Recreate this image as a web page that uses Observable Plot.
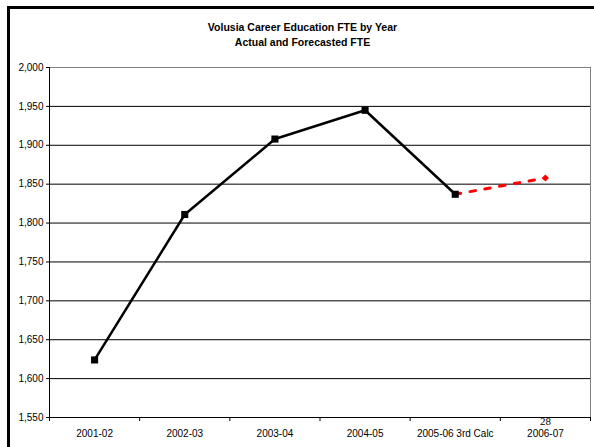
<!DOCTYPE html>
<html>
<head>
<meta charset="utf-8">
<script src="https://cdn.jsdelivr.net/npm/d3@7"></script>
<script src="https://cdn.jsdelivr.net/npm/@observablehq/plot@0.6"></script>
<style>
  html, body { margin: 0; padding: 0; background: #fff; }
  #wrap { position: relative; width: 594px; height: 447px; overflow: hidden; font-family: "Liberation Sans", Arial, sans-serif; }
  #frame { position: absolute; left: 7px; top: 6px; right: -10px; bottom: -10px; border-left: 3px solid #000; border-top: 3px solid #000; }
  #title { position: absolute; left: 0; top: 20px; width: 605px; text-align: center; font-weight: bold; font-size: 10.5px; line-height: 15px; color: #000; }
  #chart { position: absolute; left: 0; top: 0; }
</style>
</head>
<body>
<div id="wrap">
  <div id="chart"></div>
  <div id="frame"></div>
  <div id="title">Volusia Career Education FTE by Year<br>Actual and Forecasted FTE</div>
</div>
<script>
const categories = ["2001-02", "2002-03", "2003-04", "2004-05", "2005-06 3rd Calc", "2006-07"];
const actualYears = ["2001-02", "2002-03", "2003-04", "2004-05", "2005-06 3rd Calc"];
const actualFTE = [1624, 1811, 1908, 1945, 1837];
const forecastYears = ["2005-06 3rd Calc", "2006-07"];
const forecastFTE = [1837, 1858];
const yTicks = [1550, 1600, 1650, 1700, 1750, 1800, 1850, 1900, 1950, 2000];
const pageNumber = "28";

const actual = actualYears.map((c, i) => ({i: categories.indexOf(c), v: actualFTE[i]}));
const forecast = forecastYears.map((c, i) => ({i: categories.indexOf(c), v: forecastFTE[i]}));
const centers = categories.map((c, i) => i);
const bounds = d3.range(-0.5, categories.length, 1);

const font = "Liberation Sans, Arial, sans-serif";

const chart = Plot.plot({
  width: 594,
  height: 447,
  marginLeft: 49,
  marginRight: 4,
  marginTop: 67,
  marginBottom: 30,
  style: {fontFamily: font, fontSize: "10px", color: "#000", background: "transparent", overflow: "visible"},
  x: {type: "linear", domain: [-0.5, categories.length - 0.5]},
  y: {domain: [1550, 2000]},
  marks: [
    Plot.gridY(yTicks.filter(t => t > 1550 && t < 2000), {stroke: "#000", strokeOpacity: 1, strokeWidth: 1}),
    Plot.ruleY([2000], {stroke: "#808080", strokeWidth: 1}),
    Plot.ruleX([categories.length - 0.5], {stroke: "#808080", strokeWidth: 1}),
    Plot.ruleX([-0.5], {stroke: "#000", strokeWidth: 1}),
    Plot.ruleY([1550], {stroke: "#000", strokeWidth: 1}),
    Plot.axisY({ticks: yTicks, tickFormat: d3.format(","), tickSize: 3, tickPadding: 3, label: null, fontSize: 10}),
    Plot.axisX({ticks: bounds, tickFormat: () => "", tickSize: 4, label: null}),
    Plot.axisX({ticks: centers, tickFormat: i => categories[i], tickSize: 0, tickPadding: 12, label: null, fontSize: 10}),
    Plot.line(forecast, {x: "i", y: "v", stroke: "#ff0000", strokeWidth: 3, strokeDasharray: "5.5,9.5"}),
    Plot.line(actual, {x: "i", y: "v", stroke: "#000", strokeWidth: 2.5}),
    Plot.dot(forecast.slice(1), {x: "i", y: "v", symbol: "diamond2", r: 3.2, fill: "#ff0000", stroke: "none"}),
    Plot.dot(actual, {x: "i", y: "v", symbol: "square", r: 4, fill: "#000", stroke: "none"}),
    Plot.text([pageNumber], {x: () => categories.length - 1, y: () => 1550, text: d => d, dy: 4, fontFamily: "Liberation Serif, Times New Roman, serif", fontSize: 11, fill: "#000"})
  ]
});
document.getElementById("chart").appendChild(chart);
</script>
</body>
</html>
